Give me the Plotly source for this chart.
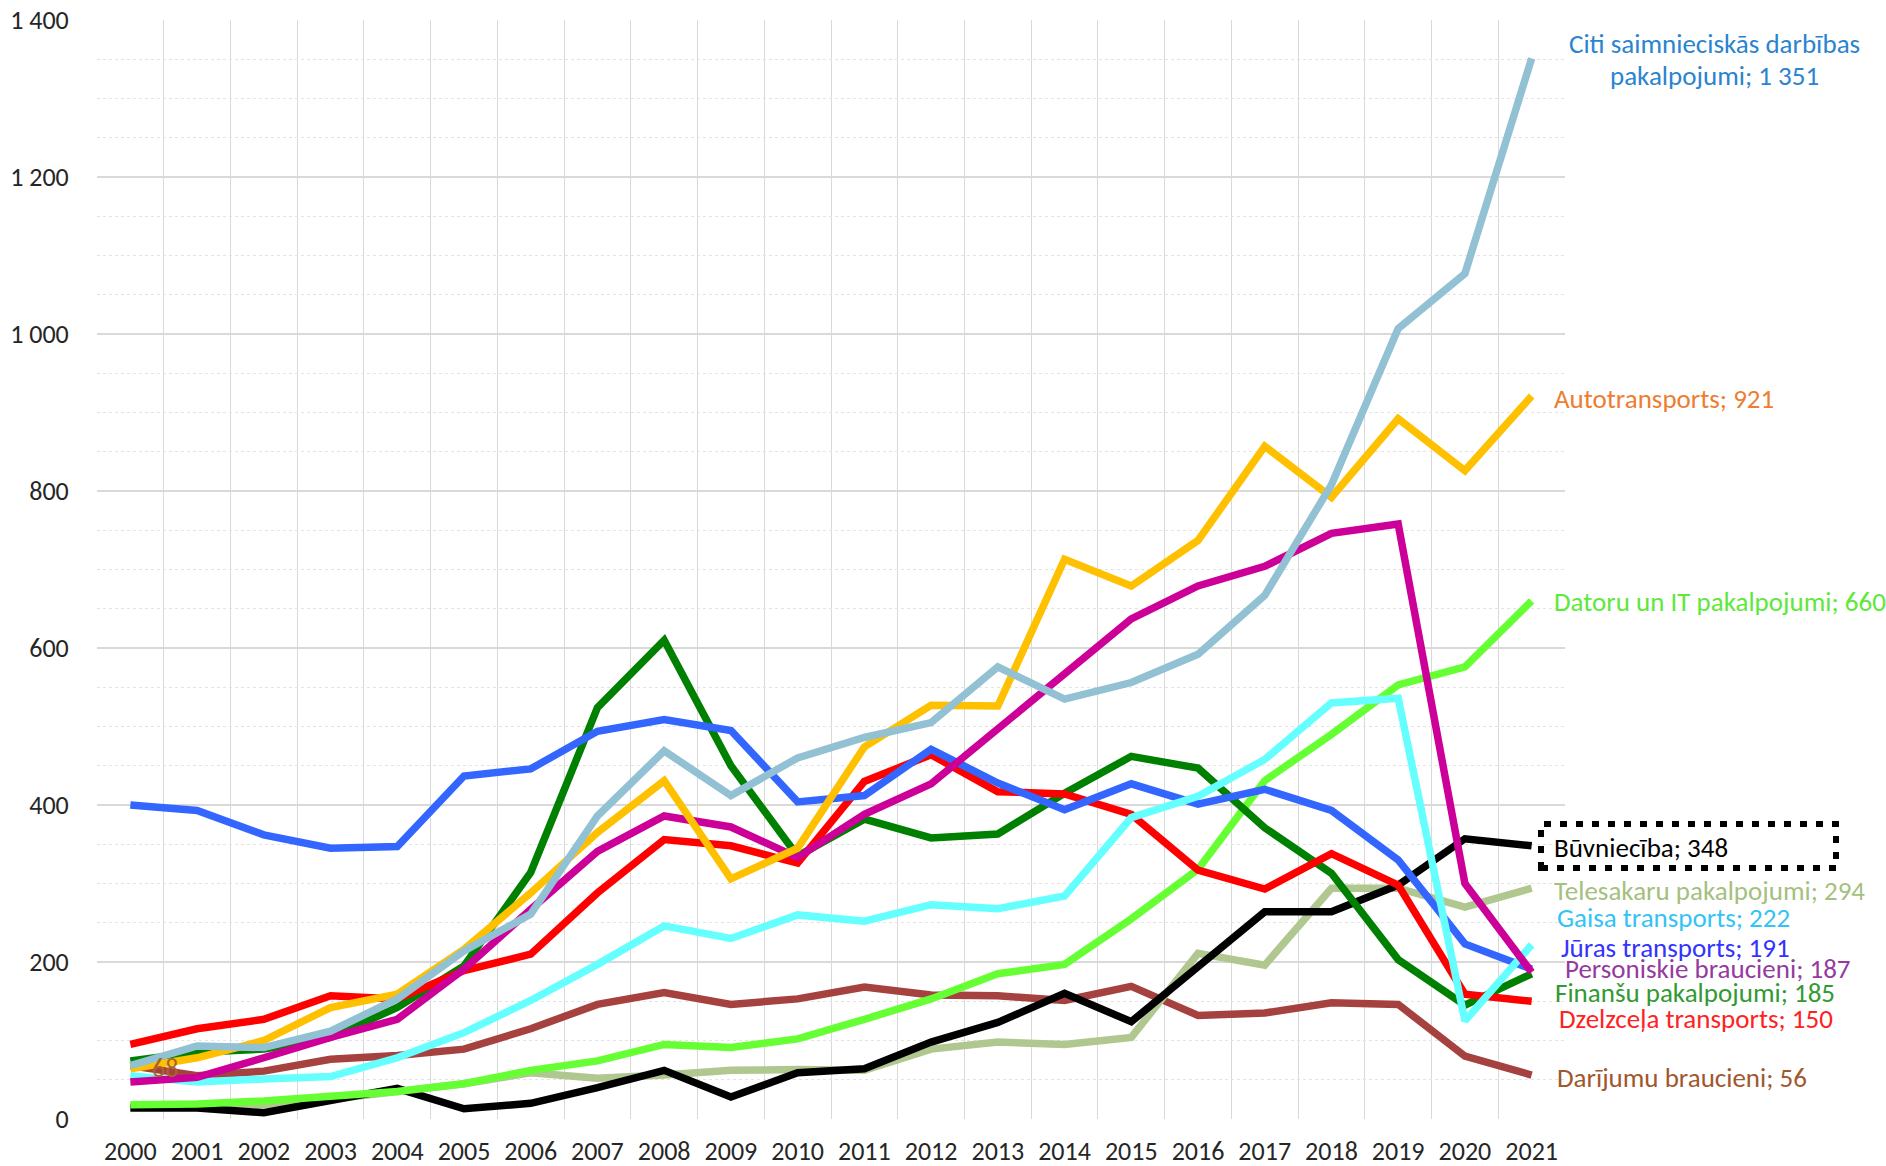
import plotly.graph_objects as go

years = list(range(2000, 2022))

citi = [68, 93, 91, 112, 153, 214, 261, 386, 469, 412, 460, 486, 505, 576, 535, 556, 592, 667, 808, 1007, 1077, 1351]
auto = [64, 78, 100, 142, 159, 216, 288, 365, 431, 306, 345, 474, 527, 526, 713, 679, 737, 857, 792, 892, 826, 921]
datoru = [18, 19, 23, 28, 35, 45, 62, 74, 95, 91, 102, 127, 153, 185, 197, 255, 318, 431, 490, 553, 576, 660]
buvn = [14, 14, 8, 23, 39, 13, 20, 40, 62, 28, 59, 64, 98, 123, 160, 124, 195, 264, 264, 298, 357, 348]
tele = [16, 17, 18, 25, 34, 45, 59, 52, 56, 62, 63, 62, 89, 98, 95, 104, 211, 196, 294, 294, 270, 294]
gaisa = [55, 47, 51, 54, 78, 110, 151, 197, 246, 230, 260, 252, 273, 268, 284, 384, 411, 458, 530, 536, 125, 222]
juras = [400, 393, 362, 345, 347, 437, 446, 494, 509, 495, 404, 412, 471, 428, 394, 427, 401, 420, 393, 330, 223, 191]
pers = [47, 53, 78, 104, 127, 191, 267, 341, 386, 372, 333, 388, 427, 497, 569, 637, 679, 704, 746, 758, 300, 187]
fin = [74, 85, 89, 104, 142, 195, 314, 524, 610, 450, 335, 382, 358, 363, 415, 462, 447, 371, 313, 203, 145, 185]
dzelz = [95, 115, 127, 157, 153, 189, 210, 288, 356, 348, 326, 430, 464, 417, 414, 388, 317, 293, 338, 298, 159, 150]
darij = [68, 55, 61, 76, 81, 89, 115, 146, 161, 146, 153, 168, 158, 157, 151, 169, 132, 135, 148, 146, 80, 56]

# drawing order: bottom -> top
series = [
    ("Darījumu braucieni", darij, "#A5423F"),
    ("Telesakaru pakalpojumi", tele, "#B0C890"),
    ("Būvniecība", buvn, "#000000"),
    ("Datoru un IT pakalpojumi", datoru, "#66FF33"),
    ("Finanšu pakalpojumi", fin, "#008000"),
    ("Dzelzceļa transports", dzelz, "#FF0000"),
    ("Jūras transports", juras, "#3366FF"),
    ("Gaisa transports", gaisa, "#66FFFF"),
    ("Personiskie braucieni", pers, "#CC0099"),
    ("Autotransports", auto, "#FFC000"),
    ("Citi saimnieciskās darbības pakalpojumi", citi, "#92C1D4"),
]

label_texts = [
    "Citi saimnieciskās darbības",
    "pakalpojumi; 1 351",
    "Autotransports; 921",
    "Datoru un IT pakalpojumi; 660",
    "Būvniecība; 348",
    "Telesakaru pakalpojumi; 294",
    "Gaisa transports; 222",
    "Jūras transports; 191",
    "Personiskie braucieni; 187",
    "Finanšu pakalpojumi; 185",
    "Dzelzceļa transports; 150",
    "Darījumu braucieni; 56",
]
label_colors = ["#2A84CF", "#2A84CF", "#ED7D31", "#5DE83A", "#000000", "#A5BF7F",
                "#33C3F5", "#3333FF", "#953A9F", "#339933", "#FF2222", "#A0582E"]
# page-pixel placement (x, y-center, anchor)
label_pos = [(1714, 43, "center"), (1714, 75, "center"), (1552, 398, "left"), (1552, 602, "left"),
             (1552, 847, "left"), (1552, 890, "left"), (1555, 917, "left"), (1559, 947, "left"),
             (1563, 968, "left"), (1553, 992, "left"), (1557, 1018, "left"), (1555, 1077, "left")]

W, H = 1886, 1166
PL, PR, PT, PB = 97, 1565, 20, 1119


def px(x):
    return (x - PL) / (PR - PL)


def py(y):
    return (PB - y) / (PB - PT)


FONT = "Calibri, Carlito, Lato, sans-serif"
TXT = "#262626"

fig = go.Figure()
for name, vals, col in series:
    fig.add_trace(go.Scatter(x=years, y=vals, name=name, mode="lines",
                             line=dict(color=col, width=7.5), hoverinfo="x+y+name"))

annotations = []
for t, c, (x, y, anc) in zip(label_texts, label_colors, label_pos):
    annotations.append(dict(text=t, xref="paper", yref="paper", x=px(x), y=py(y),
                            xanchor=anc, yanchor="middle", showarrow=False,
                            font=dict(family=FONT, size=27, color=c)))
annotations.append(dict(text=str(darij[0]), xref="paper", yref="paper", x=px(165), y=py(1068),
                        xanchor="center", yanchor="middle", showarrow=False,
                        font=dict(family=FONT, size=26, color="#A8642A")))

fig.add_shape(type="rect", xref="paper", yref="paper", x0=px(1541), x1=px(1836),
              y0=py(868), y1=py(824), line=dict(color="#000000", width=6, dash="7px,9px"))

fig.update_layout(
    width=W, height=H,
    margin=dict(l=PL, r=W - PR, t=PT, b=H - PB, pad=0, autoexpand=False),
    paper_bgcolor="white", plot_bgcolor="white",
    showlegend=False,
    separators=", ",
    annotations=annotations,
    font=dict(family=FONT, size=26, color=TXT),
)
fig.update_xaxes(
    range=[1999.5001, 2021.4999], tickmode="linear", tick0=2000, dtick=1, tickformat="d",
    showgrid=False, zeroline=False, showline=False, automargin=False,
    ticklabeloverflow="allow",
    ticks="outside", ticklen=9, tickcolor="rgba(0,0,0,0)",
    tickfont=dict(family=FONT, size=26, color=TXT),
    minor=dict(tickmode="linear", tick0=2000.5, dtick=1, showgrid=True,
               gridcolor="#D9D9D9", gridwidth=1.2, ticks=""),
)
fig.update_yaxes(
    range=[0, 1400], tickmode="linear", tick0=0, dtick=200, tickformat=",d",
    showgrid=True, gridcolor="#D9D9D9", gridwidth=1.5, zeroline=False, showline=False,
    automargin=False, ticklabeloverflow="allow",
    ticks="outside", ticklen=22, tickcolor="rgba(0,0,0,0)",
    tickfont=dict(family=FONT, size=26, color=TXT),
    minor=dict(tickmode="linear", tick0=0, dtick=50, showgrid=True,
               gridcolor="#E4E4E4", gridwidth=1, griddash="dot", ticks=""),
)

fig.write_html("out.html", config={"displayModeBar": False},
               post_script="document.body.style.margin='0';document.body.style.overflow='hidden';")
